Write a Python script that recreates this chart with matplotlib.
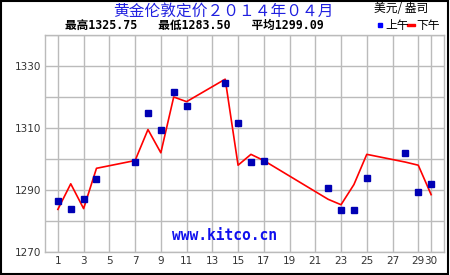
import matplotlib
matplotlib.use("Agg")
import matplotlib.pyplot as plt
from matplotlib.patches import Rectangle

# London gold fix, April 2014 (USD / oz)
days = [1, 2, 3, 4, 7, 8, 9, 10, 11, 14, 15, 16, 17, 22, 23, 24, 25, 28, 29, 30]
am_fix = [1286.50, 1284.00, 1287.00, 1293.50, 1299.00, 1314.75, 1309.50, 1321.50,
          1317.00, 1324.50, 1311.50, 1299.00, 1299.25, 1290.50, 1283.50, 1283.50,
          1294.00, 1302.00, 1289.50, 1292.00]
pm_fix = [1283.75, 1292.00, 1284.00, 1297.00, 1299.50, 1309.50, 1302.00, 1320.00,
          1318.50, 1325.75, 1298.00, 1301.50, 1299.50, 1287.00, 1285.25, 1291.75,
          1301.50, 1299.00, 1298.00, 1288.50]
x_ticks = list(range(1, 30, 2)) + [30]
y_ticks = list(range(1270, 1341, 10))
y_labels = [str(v) if (v - 1270) % 20 == 0 else "" for v in y_ticks]

title = "黄金伦敦定价２０１４年０４月"
stats = "最高1325.75   最低1283.50   平均1299.09"

cjk = ["Noto Sans CJK SC", "DejaVu Sans"]
mono = ["DejaVu Sans Mono", "Noto Sans CJK SC"]

fig = plt.figure(figsize=(4.5, 2.75), dpi=100)
ax = fig.add_axes([45 / 450, 23 / 275, 399 / 450, 217 / 275])

ax.plot(days, pm_fix, color="#ff0000", lw=1.2, zorder=3)
ax.plot(days, am_fix, ls="none", marker="s", ms=4.5, color="#0000b4", zorder=4)

ax.set_xlim(0, 31)
ax.set_ylim(1270, 1340)
ax.set_xticks(x_ticks)
ax.set_yticks(y_ticks)
ax.set_yticklabels(y_labels)
ax.tick_params(length=0, labelsize=7.5, labelcolor="#333333", pad=3)
ax.grid(True, color="#bbbbbb", lw=1)
ax.set_axisbelow(True)
for s in ax.spines.values():
    s.set_color("#bbbbbb")
    s.set_linewidth(1)

ax.text(0.45, 0.04, "www.kitco.cn", transform=ax.transAxes, ha="center", va="bottom",
        family="DejaVu Sans Mono", fontweight="bold", fontsize=10.5, color="#1010ee")

# header texts
fig.text(223 / 450, 1 - 11 / 275, title, ha="center", va="center",
         family=cjk, fontsize=11.3, color="#2020e0")
fig.text(65 / 450, 1 - 25 / 275, stats, ha="left", va="center",
         family=mono, fontweight="bold", fontsize=8.4, color="black")
fig.text(401 / 450, 1 - 9 / 275, "美元/ 盎司", ha="center", va="center",
         family=cjk, fontsize=8.5, color="black")
fig.text(385 / 450, 1 - 25 / 275, "上午", ha="left", va="center",
         family=cjk, fontsize=8.5, color="black")
fig.text(416 / 450, 1 - 25 / 275, "下午", ha="left", va="center",
         family=cjk, fontsize=8.5, color="black")
fig.patches.append(Rectangle((378 / 450, 1 - 27 / 275), 4 / 450, 4 / 275,
                             transform=fig.transFigure, color="#0000ff", figure=fig))
fig.patches.append(Rectangle((407 / 450, 1 - 26 / 275), 8 / 450, 2 / 275,
                             transform=fig.transFigure, color="#ff0000", figure=fig))

# outer frame
fig.patches.append(Rectangle((0.002, 0.004), 0.994, 0.994, transform=fig.transFigure,
                             fill=False, edgecolor="black", lw=1.5, figure=fig))

fig.savefig("out.png", dpi=100)
